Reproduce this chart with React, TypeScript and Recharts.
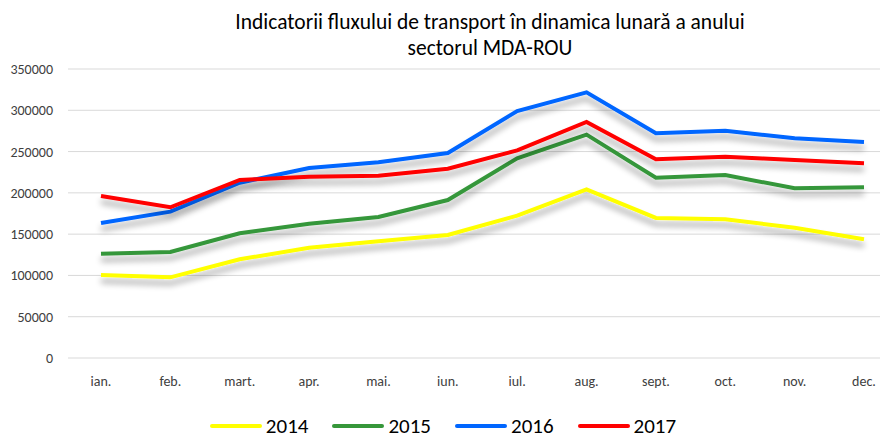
import { LineChart, Line, CartesianGrid, XAxis, YAxis, Legend } from "recharts";

// month labels, as on the x axis
const months = ["ian.", "feb.", "mart.", "apr.", "mai.", "iun.", "iul.", "aug.", "sept.", "oct.", "nov.", "dec."];

// monthly values
const y2014 = [100500, 97700, 119500, 133600, 141300, 149000, 172400, 204300, 169600, 168000, 157800, 143800];
const y2015 = [126300, 128400, 151000, 162700, 170800, 191300, 241800, 270500, 218400, 221600, 205500, 206700];
const y2016 = [163500, 177200, 212300, 230100, 237000, 248300, 299100, 321700, 272100, 275300, 266100, 261600];
const y2017 = [196200, 182500, 215600, 219600, 220800, 229300, 251500, 285800, 240600, 243800, 239800, 235800];

const yTicks = [0, 50000, 100000, 150000, 200000, 250000, 300000, 350000];

const series = [
    { key: "2014", values: y2014, color: "#FFFF00" },
    { key: "2015", values: y2015, color: "#36973A" },
    { key: "2016", values: y2016, color: "#0066FF" },
    { key: "2017", values: y2017, color: "#FF0000" },
];

const data = months.map((m, i) => {
    const row: Record<string, string | number> = { month: m };
    series.forEach((s) => {
        row[s.key] = s.values[i];
    });
    return row;
});

const font = "Carlito, Calibri, 'Liberation Sans', sans-serif";

function LegendContent() {
    return (
        <div
            style={{
                display: "flex",
                justifyContent: "center",
                alignItems: "flex-end",
                height: 36,
                paddingLeft: 30,
                boxSizing: "border-box",
            }}
        >
            {series.map((s) => (
                <div key={s.key} style={{ display: "flex", alignItems: "center", marginRight: 24 }}>
                    <div style={{ width: 52, height: 4, borderRadius: 2, background: s.color, marginRight: 4 }} />
                    <span style={{ fontFamily: font, fontSize: 21, lineHeight: "normal", color: "#000" }}>{s.key}</span>
                </div>
            ))}
        </div>
    );
}

export default function App() {
    return (
        <div style={{ position: "relative", width: 884, height: 439, background: "#fff" }}>
            <style>{`body{margin:0}`}</style>
            <div
                style={{
                    position: "absolute",
                    top: 9,
                    left: 0,
                    width: 980,
                    textAlign: "center",
                    fontFamily: font,
                    fontSize: 21.5,
                    fontWeight: 400,
                    lineHeight: "26px",
                    color: "#000",
                }}
            >
                Indicatorii fluxului de transport în dinamica lunară a anului
                <br />
                sectorul MDA-ROU
            </div>
            <LineChart
                width={884}
                height={439}
                data={data}
                margin={{ top: 69, right: 4, bottom: 0, left: 0 }}
            >
                <defs>
                    <filter id="shadow" x="-10%" y="-30%" width="120%" height="160%">
                        <feGaussianBlur in="SourceAlpha" stdDeviation="3" />
                        <feOffset dx="0" dy="6" result="blur" />
                        <feComponentTransfer>
                            <feFuncA type="linear" slope="0.35" />
                        </feComponentTransfer>
                        <feMerge>
                            <feMergeNode />
                            <feMergeNode in="SourceGraphic" />
                        </feMerge>
                    </filter>
                </defs>
                <CartesianGrid vertical={false} stroke="#D9D9D9" strokeWidth={1} />
                <XAxis
                    dataKey="month"
                    axisLine={false}
                    tickLine={false}
                    height={45}
                    tickMargin={12}
                    padding={{ left: 33, right: 16 }}
                    tick={{ fontFamily: font, fontSize: 14, fill: "#404040" }}
                />
                <YAxis
                    domain={[0, 350000]}
                    ticks={yTicks}
                    axisLine={false}
                    tickLine={false}
                    width={68}
                    tickSize={0}
                    tickMargin={15}
                    tick={{ fontFamily: font, fontSize: 14, fill: "#404040" }}
                />
                <Legend verticalAlign="bottom" height={36} content={<LegendContent />} />
                {series.map((s) => (
                    <Line
                        key={s.key}
                        type="linear"
                        dataKey={s.key}
                        stroke={s.color}
                        strokeWidth={4}
                        dot={false}
                        activeDot={false}
                        filter="url(#shadow)"
                        isAnimationActive={false}
                    />
                ))}
            </LineChart>
        </div>
    );
}
